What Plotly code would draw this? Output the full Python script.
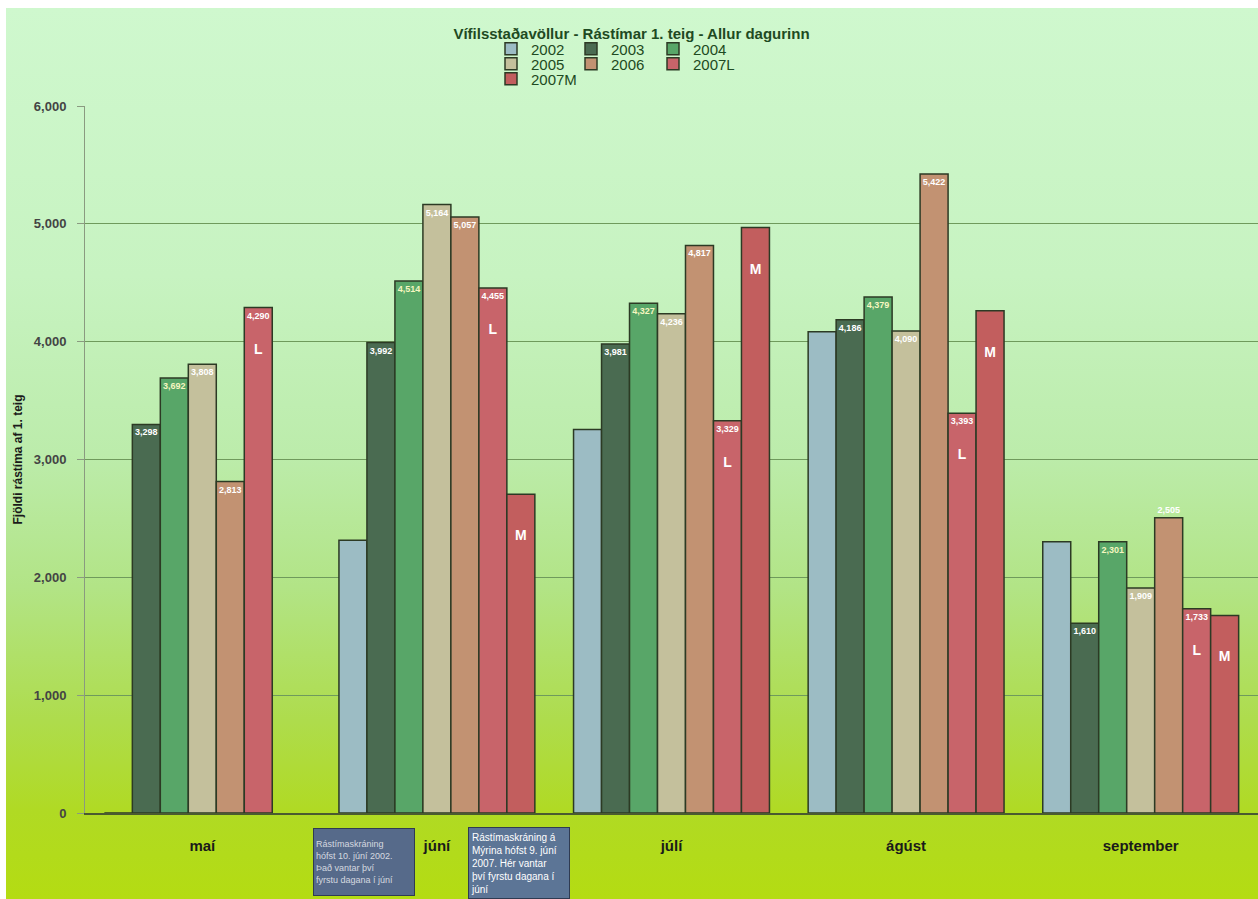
import base64
import plotly.graph_objects as go

# ---------------- data ----------------
months = ["maí", "júní", "júlí", "ágúst", "september"]
series_names = ["2002", "2003", "2004", "2005", "2006", "2007L", "2007M"]
v2002 = [0, 2315, 3255, 4085, 2302]
v2003 = [3298, 3992, 3981, 4186, 1610]
v2004 = [3692, 4514, 4327, 4379, 2301]
v2005 = [3808, 5164, 4236, 4090, 1909]
v2006 = [2813, 5057, 4817, 5422, 2505]
v2007L = [4290, 4455, 3329, 3393, 1733]
v2007M = [None, 2705, 4968, 4263, 1677]
y_ticks = [0, 1000, 2000, 3000, 4000, 5000, 6000]
y_ticklabels = ["0", "1,000", "2,000", "3,000", "4,000", "5,000", "6,000"]

title_text = "Vífilsstaðavöllur - Rástímar 1. teig - Allur dagurinn"
y_title = "Fjöldi rástíma af 1. teig"
note1 = "Rástímaskráning<br>hófst 10. júní 2002.<br>Það vantar því<br>fyrstu dagana í júní"
note2 = "Rástímaskráning á<br>Mýrina hófst 9. júní<br>2007. Hér vantar<br>því fyrstu dagana í<br>júní"

# ---------------- layout geometry ----------------
W, H = 1258, 899
L, R, T, B = 85, 0, 106, 86
PW = W - L - R
PH = H - T - B
FONT = "Arial, Liberation Sans, sans-serif"


def px_x(px):
    return (px - L) / PW


def px_y(py):
    return (H - B - py) / PH


def fmt(v):
    return f"{v:,}" if v else ""


colors = {
    "2002": "#9cbcc4",
    "2003": "#4a6b51",
    "2004": "#58a668",
    "2005": "#c4c09c",
    "2006": "#c29272",
    "2007L": "#c8646a",
    "2007M": "#c25e5e",
}
values = {
    "2002": v2002, "2003": v2003, "2004": v2004, "2005": v2005,
    "2006": v2006, "2007L": v2007L, "2007M": v2007M,
}
# legend grid: 3 columns, rows of 3 (one small legend per entry)
legend_cols_px = [491, 571, 653]
legend_rows_px = [49, 64, 79]
legend_ids = ["legend"] + [f"legend{i}" for i in range(2, 8)]

fig = go.Figure()
for i, name in enumerate(series_names):
    vals = values[name]
    if name == "2002":
        text = ["" for _ in vals]
    elif name == "2007L":
        text = [f"{fmt(v)}<br><br><br><span style='font-size:14px'>L</span>" for v in vals]
    elif name == "2007M":
        text = [" <br><br><br><span style='font-size:14px'>M</span>" if v else "" for v in vals]
    else:
        text = [fmt(v) for v in vals]
    tcolor = "#f6f6c0" if name == "2004" else "white"
    tpos = ["inside"] * len(vals)
    if name == "2006":
        tpos[4] = "outside"
    fig.add_trace(go.Bar(
        name=name, x=months, y=vals, text=text,
        textposition=tpos, insidetextanchor="end", textangle=0,
        constraintext="none",
        textfont=dict(family=FONT, size=9, color=tcolor, weight="bold"),
        marker=dict(color=colors[name], line=dict(color="#2c3a24", width=1.5)),
        legend=legend_ids[i], cliponaxis=False,
    ))

# background gradient as an inline svg image
svg = (
    "<svg xmlns='http://www.w3.org/2000/svg' viewBox='0 0 100 100' preserveAspectRatio='none'>"
    "<defs><linearGradient id='g' x1='0' y1='0' x2='0' y2='1'>"
    "<stop offset='0' stop-color='#cff8ce'/>"
    "<stop offset='0.3' stop-color='#c7f3c1'/>"
    "<stop offset='0.5' stop-color='#bcecab'/>"
    "<stop offset='0.65' stop-color='#b2e486'/>"
    "<stop offset='0.8' stop-color='#aedc4c'/>"
    "<stop offset='0.9' stop-color='#b0da24'/>"
    "<stop offset='1' stop-color='#b4dc12'/>"
    "</linearGradient></defs><rect width='100' height='100' fill='url(#g)'/></svg>"
)
src = "data:image/svg+xml;base64," + base64.b64encode(svg.encode()).decode()

legend_common = dict(
    orientation="h", xref="container", yref="container",
    xanchor="left", yanchor="middle", bgcolor="rgba(0,0,0,0)",
    font=dict(family=FONT, size=15, color="#1e4a22"),
    itemwidth=30, tracegroupgap=0,
)
legend_layout = {}
for i, lid in enumerate(legend_ids):
    col, row = i % 3, i // 3
    legend_layout[lid] = dict(x=legend_cols_px[col] / W, y=1 - legend_rows_px[row] / H,
                              **legend_common)

fig.update_layout(
    width=W, height=H,
    margin=dict(l=L, r=R, t=T, b=B),
    paper_bgcolor="white",
    plot_bgcolor="rgba(0,0,0,0)",
    barmode="group", bargap=0.165, bargroupgap=0,
    showlegend=True,
    title=dict(text=title_text, x=0.502, xanchor="center", y=1 - 34 / H, yanchor="middle",
               font=dict(family=FONT, size=15, color="#1e4a22", weight="bold")),
    images=[dict(source=src, xref="paper", yref="paper",
                 x=px_x(6), y=px_y(8), sizex=(W - 6) / PW, sizey=(H - 8) / PH,
                 xanchor="left", yanchor="top", sizing="stretch", layer="below")],
    xaxis=dict(
        showgrid=False, showline=True, linecolor="#4a5a30", linewidth=1.5,
        tickfont=dict(family=FONT, size=15, color="#1a1a1a", weight="bold"),
        ticklabelstandoff=18, ticks="",
    ),
    yaxis=dict(
        range=[0, 6000], tickvals=y_ticks, ticktext=y_ticklabels,
        showgrid=True, gridcolor="#6f9a5c", gridwidth=1.2,
        showline=True, linecolor="#8a9a80", linewidth=1,
        ticks="outside", ticklen=7, tickcolor="#8a9a80",
        ticklabelstandoff=8, zeroline=False,
        tickfont=dict(family=FONT, size=13, color="#444444", weight="bold"),
        title=dict(text=y_title, standoff=8,
                   font=dict(family=FONT, size=12, color="#1a1a1a", weight="bold")),
    ),
    annotations=[
        dict(text=note1, xref="paper", yref="paper", x=px_x(313), y=px_y(828),
             xanchor="left", yanchor="top", align="left", showarrow=False,
             width=96, height=62, borderpad=2,
             bgcolor="#566a8a", bordercolor="#2f3b52", borderwidth=1,
             font=dict(family=FONT, size=9, color="rgba(255,255,255,0.75)")),
        dict(text=note2, xref="paper", yref="paper", x=px_x(468), y=px_y(827),
             xanchor="left", yanchor="top", align="left", showarrow=False,
             width=96, height=66, borderpad=2,
             bgcolor="#5c7596", bordercolor="#2f3b52", borderwidth=1,
             font=dict(family=FONT, size=10, color="white")),
    ],
)
fig.update_layout(**legend_layout)

fig.write_html("out.html", config={"displayModeBar": False},
               post_script="document.body.style.margin='0';")
